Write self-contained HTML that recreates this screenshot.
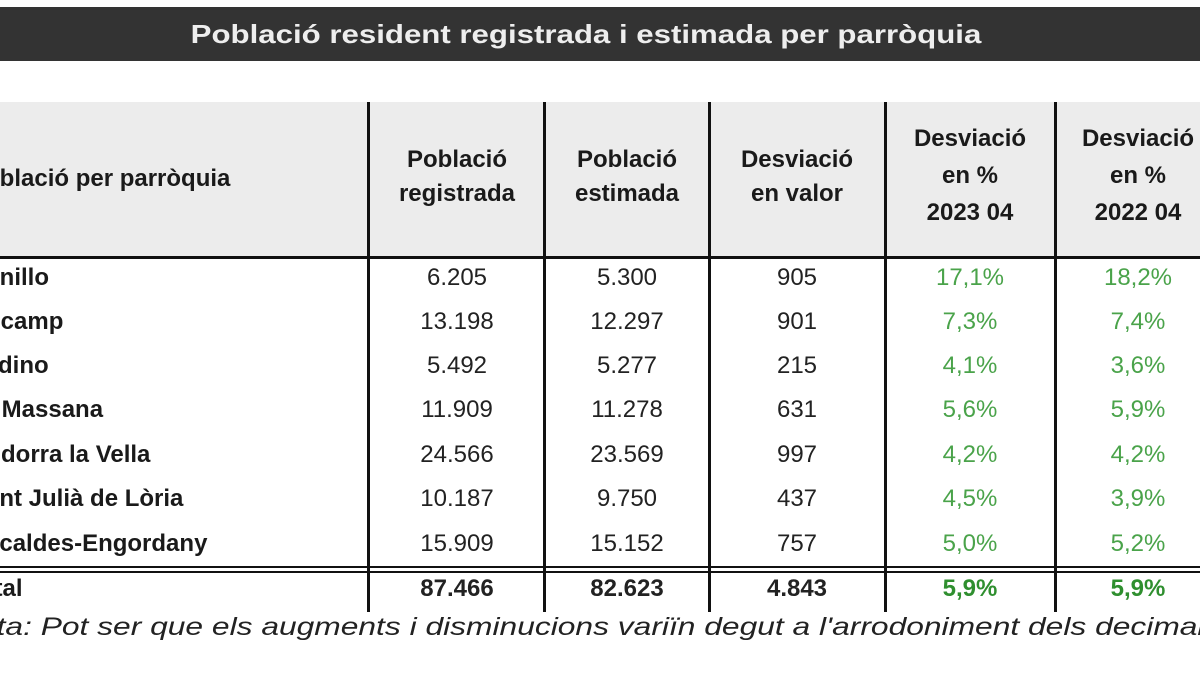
<!DOCTYPE html>
<html><head><meta charset="utf-8">
<style>
body{margin:0;width:1200px;height:675px;overflow:hidden;background:#fff;font-family:"Liberation Sans",sans-serif;position:relative}
.abs{position:absolute}
#title{left:0;top:7px;width:1200px;height:54px;background:#333;color:#eee;font-weight:bold;font-size:26px;line-height:54px}
#title span{position:absolute;left:586px;transform:translateX(-50%) scaleX(1.2);white-space:nowrap}
#hdr{left:0;top:102px;width:1200px;height:155px;background:#ececec}
.vl{position:absolute;top:102px;width:3px;height:510px;background:#111}
.hl{position:absolute;left:0;width:1200px;background:#111}
.h{position:absolute;font-weight:bold;font-size:24px;color:#1a1a1a;text-align:center;line-height:34px;transform:translateX(-50%);white-space:nowrap}
.c{position:absolute;font-size:24px;color:#222;transform:translateX(-50%);white-space:nowrap}
.lab{position:absolute;font-size:24px;font-weight:bold;color:#1a1a1a;white-space:nowrap}
.g{color:#4aa34a}
</style></head><body>
<div id="title" class="abs"><span>Població resident registrada i estimada per parròquia</span></div>
<div id="hdr" class="abs"></div>
<div class="lab" style="left:-31px;top:165px">Població per parròquia</div>
<div class="h" style="left:457px;top:143px">Població<br>registrada</div>
<div class="h" style="left:627px;top:143px">Població<br>estimada</div>
<div class="h" style="left:797px;top:143px">Desviació<br>en valor</div>
<div class="h" style="left:970px;top:120px;line-height:37px">Desviació<br>en %<br>2023 04</div>
<div class="h" style="left:1138px;top:120px;line-height:37px">Desviació<br>en %<br>2022 04</div>
<div class="vl" style="left:367px"></div>
<div class="vl" style="left:543px"></div>
<div class="vl" style="left:708px"></div>
<div class="vl" style="left:884px"></div>
<div class="vl" style="left:1054px"></div>
<div class="hl" style="top:256px;height:3px"></div>
<div class="hl" style="top:566px;height:2px"></div>
<div class="hl" style="top:571px;height:2px"></div>
<div class="abs" style="left:-44px;top:613px;font-size:25px;font-style:italic;color:#222;white-space:nowrap;transform:scaleX(1.27);transform-origin:0 0">Nota: Pot ser que els augments i disminucions variïn degut a l'arrodoniment dels decimals</div>
<script>
const parishes=["Canillo","Encamp","Ordino","La Massana","Andorra la Vella","Sant Julià de Lòria","Escaldes-Engordany","Total"];
const offsets=[-31,-30,-30,-33,-31,-30,-30,-33];
const registered=["6.205","13.198","5.492","11.909","24.566","10.187","15.909","87.466"];
const estimated=["5.300","12.297","5.277","11.278","23.569","9.750","15.152","82.623"];
const devValue=["905","901","215","631","997","437","757","4.843"];
const dev2023=["17,1%","7,3%","4,1%","5,6%","4,2%","4,5%","5,0%","5,9%"];
const dev2022=["18,2%","7,4%","3,6%","5,9%","4,2%","3,9%","5,2%","5,9%"];
const tops=[264,308,352,396,441,485,530,575];
const cols=[[registered,457,'registered'],[estimated,627,'estimated'],[devValue,797,'deviation-value'],[dev2023,970,'deviation-2023'],[dev2022,1138,'deviation-2022']];
parishes.forEach((p,i)=>{
  const total=i===parishes.length-1;
  const l=document.createElement('div');
  l.className='lab';l.textContent=p;
  l.style.left=offsets[i]+'px';l.style.top=tops[i]+'px';
  
  
  document.body.appendChild(l);
  cols.forEach((c,j)=>{
    const d=document.createElement('div');
    d.className='c'+(j>=3?' g':'');
    d.textContent=c[0][i];
    d.style.left=c[1]+'px';d.style.top=tops[i]+'px';
    if(total){d.style.fontWeight='bold';if(j>=3)d.style.color='#2f8f2f';}
    
    
    document.body.appendChild(d);
  });
});
</script>
</body></html>
